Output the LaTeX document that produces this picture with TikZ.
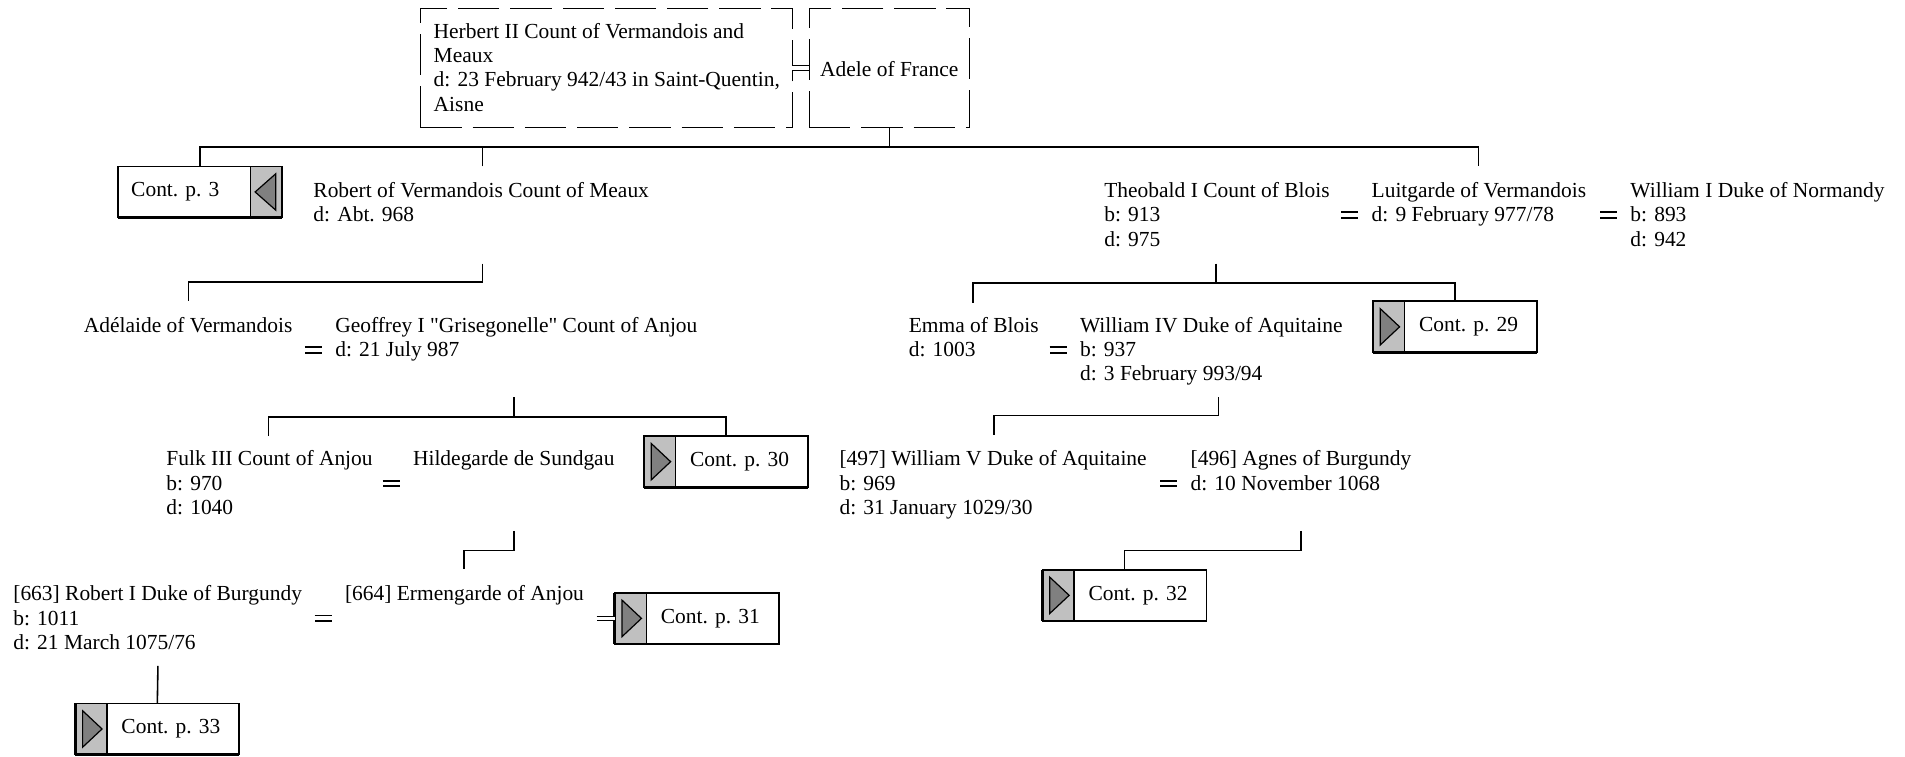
\documentclass[tikz,border=0pt]{standalone}
\usepackage{fontspec}
\setmainfont{Liberation Serif}
\newfontfamily\plainserif{Liberation Serif}
\definecolor{cellgray}{HTML}{C0C0C0}
\definecolor{trigray}{HTML}{808080}
\newcommand\ptext[1]{\begin{tabular}[t]{@{}l@{}}#1\end{tabular}}
\newcommand\contR[4]{% name, x, y (top-left), text ; arrow cell on the left
  \node[contouter,anchor=north west] (#1) at (#2,#3) {};
  \draw[cellstyle] (#2,#3) rectangle (#2+26,#3+42);
  \draw[tri] (#2+6,#3+6) -- (#2+22,#3+21) -- (#2+6,#3+36) -- cycle;
  \draw[line width=1.1pt] (#1.south west) -- (#1.south east);
  \draw[line width=1.1pt] (#1.south west) -- (#1.north west);
  \node[anchor=west] (#1t) at (#2+38,#3+21) {#4};
}
\newcommand\contL[4]{% arrow cell on the right
  \node[contouter,anchor=north west] (#1) at (#2,#3) {};
  \draw[cellstyle] (#2+109,#3) rectangle (#2+135,#3+42);
  \draw[tri] (#2+130,#3+6) -- (#2+113,#3+21) -- (#2+130,#3+36) -- cycle;
  \draw[line width=1.1pt] (#1.south west) -- (#1.south east);
  \draw[line width=1.1pt] (#1.south east) -- (#1.north east);
  \node[anchor=west] (#1t) at (#2+11,#3+21) {#4};
}
\begin{document}
\begin{tikzpicture}[x=0.5pt,y=-0.5pt,
  every node/.style={font=\plainserif\fontsize{8.83pt}{10pt}\selectfont, inner sep=0pt, outer sep=0pt},
  person/.style={anchor=base west},
  tree/.style={line width=0.65pt},
  marriage/.style={double, line width=0.7pt, double distance=1.6pt},
  thinmarriage/.style={double, line width=0.45pt, double distance=1.3pt},
  dashbox/.style={draw, line width=0.45pt, dash pattern=on 17pt off 4.5pt},
  contouter/.style={draw, line width=0.7pt, fill=white, minimum width=67.5pt, minimum height=21pt},
  cellstyle/.style={draw, line width=0.6pt, fill=cellgray},
  tri/.style={draw, line width=0.5pt, fill=trigray, line join=miter},
  ]
\useasboundingbox (0,0) rectangle (1568,622.3);

% ---------- top couple
\node[dashbox, minimum width=153pt, minimum height=49pt, anchor=north west] (herbertbox) at (346,7) {};
\node[person] (herbert) at (357,31.5) {\ptext{Herbert II Count of Vermandois and\\Meaux\\d: 23 February 942/43 in Saint-Quentin,\\Aisne}};
\node[dashbox, minimum width=66pt, minimum height=49pt, anchor=north west] (adelebox) at (666,7) {};
\node (adele) at (732,57) {Adele of France};
\draw[thinmarriage] (herbertbox.east) -- (adelebox.west);

% ---------- generation 2
\contL{cont3}{97}{137}{Cont. p. 3}
\node[person] (robert) at (258,162.5) {\ptext{Robert of Vermandois Count of Meaux\\d: Abt. 968}};
\node[person] (theobald) at (909,162.5) {\ptext{Theobald I Count of Blois\\b: 913\\d: 975}};
\node[person] (luitgarde) at (1129,162.5) {\ptext{Luitgarde of Vermandois\\d: 9 February 977/78}};
\node[person] (william1) at (1342,162.5) {\ptext{William I Duke of Normandy\\b: 893\\d: 942}};
\coordinate (m1a) at (1104,177); \coordinate (m1b) at (1118,177);
\coordinate (m2a) at (1317,177); \coordinate (m2b) at (1331,177);
\draw[marriage] (m1a) -- (m1b);
\draw[marriage] (m2a) -- (m2b);

\coordinate (bar1) at (732,121);
\coordinate (robtop) at (397,137);
\coordinate (luittop) at (1217,137);
\draw[tree] (adelebox.south) -- (bar1);
\draw[tree] (cont3.north) |- (bar1) -| (luittop);
\draw[tree] (robtop) -- (robtop |- bar1);

% ---------- generation 3
\node[person] (adelaide) at (69,273.5) {\ptext{Ad\'elaide of Vermandois}};
\node[person] (geoffrey) at (276,273.5) {\ptext{Geoffrey I "Grisegonelle" Count of Anjou\\d: 21 July 987}};
\coordinate (m3a) at (251,288); \coordinate (m3b) at (265,288);
\draw[marriage] (m3a) -- (m3b);
\node[person] (emma) at (748,273.5) {\ptext{Emma of Blois\\d: 1003}};
\node[person] (william4) at (889,273.5) {\ptext{William IV Duke of Aquitaine\\b: 937\\d: 3 February 993/94}};
\coordinate (m4a) at (864,288); \coordinate (m4b) at (878,288);
\draw[marriage] (m4a) -- (m4b);
\contR{cont29}{1130}{248}{Cont. p. 29}

\coordinate (robdown) at (397,217);
\coordinate (adtop) at (155,248);
\draw[tree] (robdown) -- ++(0,15) -| (adtop);
\coordinate (tldown) at (1001,217);
\coordinate (emmatop) at (801,249);
\draw[tree] (tldown) -- ++(0,16) coordinate (bar2);
\draw[tree] (emmatop) |- (bar2) -| (cont29.north);

% ---------- generation 4
\node[person] (fulk) at (137,383.5) {\ptext{Fulk III Count of Anjou\\b: 970\\d: 1040}};
\node[person] (hildegarde) at (340,383.5) {\ptext{Hildegarde de Sundgau}};
\coordinate (m5a) at (315,398); \coordinate (m5b) at (329,398);
\draw[marriage] (m5a) -- (m5b);
\contR{cont30}{530}{359}{Cont. p. 30}
\node[person] (william5) at (691,383.5) {\ptext{[497] William V Duke of Aquitaine\\b: 969\\d: 31 January 1029/30}};
\node[person] (agnes) at (980,383.5) {\ptext{[496] Agnes of Burgundy\\d: 10 November 1068}};
\coordinate (m6a) at (955,398); \coordinate (m6b) at (969,398);
\draw[marriage] (m6a) -- (m6b);

\coordinate (gdown) at (423,327);
\coordinate (fulktop) at (221,359);
\draw[tree] (gdown) -- ++(0,16) coordinate (bar3);
\draw[tree] (fulktop) |- (bar3) -| (cont30.north);
\coordinate (w4down) at (1003,327);
\coordinate (w5top) at (818,358);
\draw[tree] (w4down) -- ++(0,15) -| (w5top);

% ---------- generation 5
\node[person] (robert1) at (11,494.5) {\ptext{[663] Robert I Duke of Burgundy\\b: 1011\\d: 21 March 1075/76}};
\node[person] (ermengarde) at (284,494.5) {\ptext{[664] Ermengarde of Anjou}};
\coordinate (m7a) at (259,509); \coordinate (m7b) at (273,509);
\draw[marriage] (m7a) -- (m7b);
\contR{cont31}{506}{488}{Cont. p. 31}
\coordinate (m8a) at (491,509);
\draw[thinmarriage] (m8a) -- (cont31.west);
\contR{cont32}{858}{469}{Cont. p. 32}

\coordinate (fhdown) at (423,437);
\coordinate (ermtop) at (382,468);
\draw[tree] (fhdown) -- ++(0,16) -| (ermtop);
\coordinate (wadown) at (1071,437);
\draw[tree] (wadown) -- ++(0,16) -| (cont32.north);

% ---------- generation 6
\contR{cont33}{62}{579}{Cont. p. 33}
\coordinate (r1down) at (130,548);
\draw[tree] (r1down) -- (cont33.north);
\end{tikzpicture}
\end{document}
